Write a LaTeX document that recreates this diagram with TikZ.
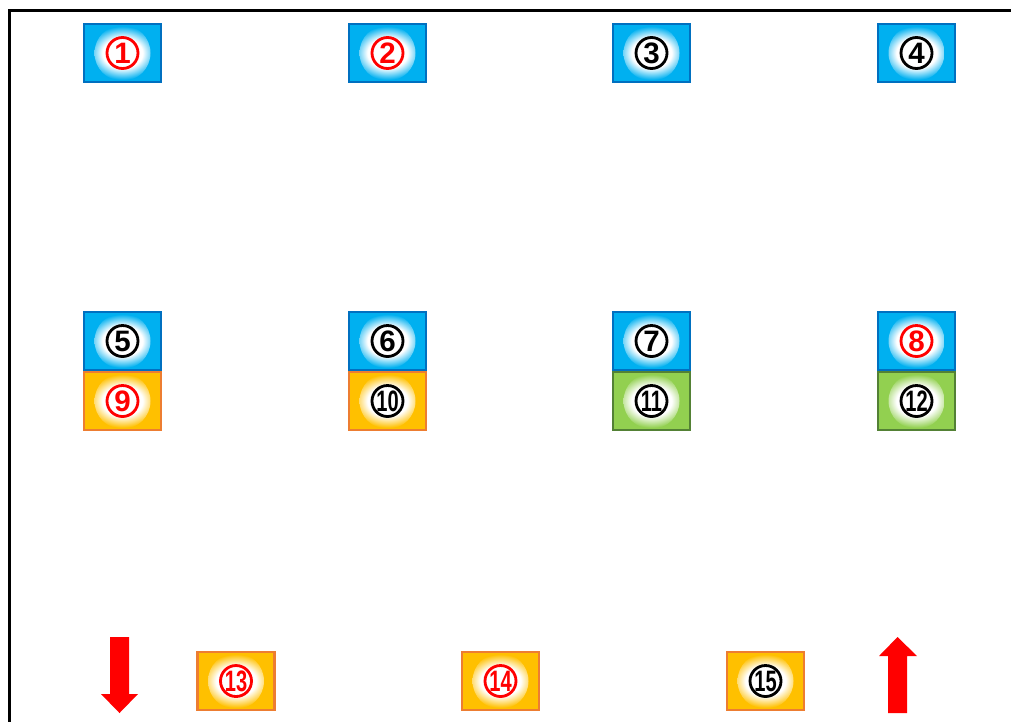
\documentclass[tikz,border=0pt]{standalone}
\usepackage{fontspec}
\setmainfont{Liberation Sans}
\usepackage{graphicx}
\usepackage{xcolor}
\usepackage{tikz}
\usetikzlibrary{positioning}

\definecolor{boxBlue}{HTML}{00B0F0}
\definecolor{lineBlue}{HTML}{0070C0}
\definecolor{boxOrange}{HTML}{FFC000}
\definecolor{lineOrange}{HTML}{ED7D31}
\definecolor{boxGreen}{HTML}{92D050}
\definecolor{lineGreen}{HTML}{538135}
\colorlet{glowcol}{boxBlue}

\pgfdeclareradialshading[glowcol]{softglow}{\pgfpointorigin}{%
    color(0bp)=(white); color(13bp)=(white);
    color(23bp)=(glowcol); color(50bp)=(glowcol)}

\begin{document}
\begin{tikzpicture}[
    glow/.style={path picture={\colorlet{glowcol}{#1}
                 \shade[shading=softglow]
                 (path picture bounding box.center) circle (0.28cm);}},
    cell/.style={rectangle, minimum width=0.77cm, minimum height=0.58cm,
                 inner sep=0pt, line width=0.6pt},
    bluebox/.style={cell, fill=boxBlue, draw=lineBlue, glow=boxBlue},
    orangebox/.style={cell, fill=boxOrange, draw=lineOrange, glow=boxOrange},
    greenbox/.style={cell, fill=boxGreen, draw=lineGreen, glow=boxGreen},
    num/.style={circle, fill=white, draw=black, line width=0.8pt,
                minimum size=0.31cm, inner sep=0pt,
                font=\fontsize{8.4}{8.4}\selectfont\bfseries},
    numred/.style={num, draw=red, text=red}
]

    \useasboundingbox (0,0) rectangle (10.11,-7.21);

    % ── cadre : gauche et haut ──
    \draw[line width=0.75pt] (0.095,-7.25) |- (10.15,-0.105);

    % ── rangée du haut ──
    \node[bluebox, label={[numred]center:1}] (Box1) at (1.225,-0.53) {};
    \node[bluebox, label={[numred]center:2}] (Box2) at (3.875,-0.53) {};
    \node[bluebox, label={[num]center:3}]    (Box3) at (6.515,-0.53) {};
    \node[bluebox, label={[num]center:4}]    (Box4) at (9.165,-0.53) {};

    % ── rangée du milieu ──
    \node[bluebox, label={[num]center:5}]    (Box5) at (1.225,-3.41) {};
    \node[bluebox, label={[num]center:6}]    (Box6) at (3.875,-3.41) {};
    \node[bluebox, label={[num]center:7}]    (Box7) at (6.515,-3.41) {};
    \node[bluebox, label={[numred]center:8}] (Box8) at (9.165,-3.41) {};

    \node[orangebox, label={[numred]center:9}] (Box9) at (1.225,-4.01) {};
    \node[orangebox, label={[num]center:\scalebox{0.68}[1]{10}}] (Box10) at (3.875,-4.01) {};
    \node[greenbox, label={[num]center:\scalebox{0.68}[1]{11}}]  (Box11) at (6.515,-4.01) {};
    \node[greenbox, label={[num]center:\scalebox{0.68}[1]{12}}]  (Box12) at (9.165,-4.01) {};

    % ── rangée du bas ──
    \node[orangebox, label={[numred]center:\scalebox{0.68}[1]{13}}] (Box13) at (2.36,-6.81) {};
    \node[orangebox, label={[numred]center:\scalebox{0.68}[1]{14}}] (Box14) at (5.005,-6.81) {};
    \node[orangebox, label={[num]center:\scalebox{0.68}[1]{15}}]    (Box15) at (7.655,-6.81) {};

    % ── flèches rouges ──
    \fill[red] (1.10,-6.37) -- (1.29,-6.37) -- (1.29,-6.94) -- (1.38,-6.94)
        -- (1.195,-7.13) -- (1.01,-6.94) -- (1.10,-6.94) -- cycle;
    \fill[red] (8.88,-7.13) -- (9.07,-7.13) -- (9.07,-6.56) -- (9.17,-6.56)
        -- (8.975,-6.37) -- (8.79,-6.56) -- (8.88,-6.56) -- cycle;

\end{tikzpicture}
\end{document}
